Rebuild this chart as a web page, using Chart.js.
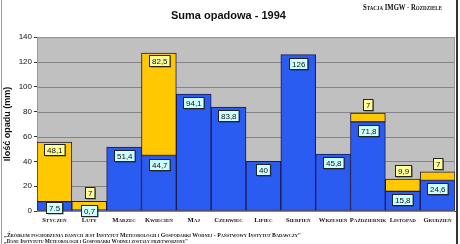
<!DOCTYPE html>
<html><head><meta charset="utf-8">
<script src="https://cdn.jsdelivr.net/npm/chart.js@4/dist/chart.umd.min.js"></script>
<style>
html,body{margin:0;padding:0;background:#fff;}
#wrap{position:relative;width:460px;height:244px;overflow:hidden;}
canvas{position:absolute;left:0;top:0;}
.sc{position:absolute;font-family:"Liberation Serif","DejaVu Serif",serif;font-variant:small-caps;color:#111;white-space:nowrap;transform-origin:0 0;line-height:1;}
#station{left:363px;top:4px;font-size:8px;font-weight:bold;}
#f1{left:4px;top:233px;font-size:5.5px;font-weight:bold;}
#f2{left:4px;top:239px;font-size:5.5px;font-weight:bold;}
#bl{position:absolute;left:1px;top:0;width:1px;height:244px;background:#9a9a9a;}
#br{position:absolute;left:456px;top:0;width:2px;height:244px;background:#333;}
</style></head>
<body><div id="wrap">
<canvas id="c" width="460" height="244"></canvas>
<div id="station" class="sc" data-w="79">Stacja IMGW - Rozdziele</div>
<div id="f1" class="sc" data-w="297">„Źródłem pochodzenia danych jest Instytut Meteorologii i Gospodarki Wodnej - Państwowy Instytut Badawczy"</div>
<div id="f2" class="sc" data-w="184">„Dane Instytutu Meteorologii i Gospodarki Wodnej zostały przetworzone"</div>
<div id="bl"></div><div id="br"></div>
</div>
<script>
const months = ["Styczeń","Luty","Marzec","Kwiecień","Maj","Czerwiec","Lipiec","Sierpień","Wrzesień","Październik","Listopad","Grudzień"];
const rain = [7.5,0.7,51.4,44.7,94.1,83.8,40,126,45.8,71.8,15.8,24.6];
const snow = [48.1,7,null,82.5,null,null,null,null,null,7,9.9,7];
const rainLabels = ["7.5","0,7","51,4","44,7","94,1","83,8","40","126","45,8","71,8","15,8","24,6"];
const snowLabels = ["48,1","7","","82,5","","","","","","7","9,9","7"];
const yTicks = [0,20,40,60,80,100,120,140];

document.querySelectorAll('.sc').forEach(d=>{
  const w = d.getBoundingClientRect().width;
  d.style.transform = 'scaleX(' + (parseFloat(d.dataset.w)/w) + ')';
});

const plotBg = {
  id:'plotBg',
  beforeDatasetsDraw(chart){
    const {ctx, chartArea:a} = chart;
    ctx.save();
    ctx.fillStyle = '#c0c0c0';
    ctx.fillRect(a.left, a.top, a.right-a.left, a.bottom-a.top);
    const y = chart.scales.y;
    ctx.strokeStyle = '#858585'; ctx.lineWidth = 1;
    yTicks.forEach(v=>{
      const py = Math.round(y.getPixelForValue(v))+0.5;
      ctx.beginPath(); ctx.moveTo(a.left, py); ctx.lineTo(a.right, py); ctx.stroke();
    });
    ctx.strokeStyle = '#999';
    ctx.strokeRect(a.left+0.5, a.top+0.5, a.right-a.left-1, a.bottom-a.top-1);
    ctx.restore();
  }
};

function drawBox(ctx, text, cx, top, bg){
  ctx.font = '8px "Liberation Sans", Arial, sans-serif';
  const w = Math.max(ctx.measureText(text).width + 5, 9);
  const h = 11;
  const x = Math.round(cx - w/2)+0.5, y = Math.round(top)+0.5;
  ctx.fillStyle = 'rgba(0,0,0,0.45)';
  ctx.fillRect(x+1, y+1, w, h);
  ctx.fillStyle = bg; ctx.fillRect(x, y, w, h);
  ctx.strokeStyle = '#222'; ctx.lineWidth = 1; ctx.strokeRect(x, y, w, h);
  ctx.fillStyle = '#111'; ctx.textAlign = 'center'; ctx.textBaseline = 'middle';
  ctx.fillText(text, x + w/2, y + h/2 + 0.5);
}

const labelsPlugin = {
  id:'boxLabels',
  afterDatasetsDraw(chart){
    const ctx = chart.ctx; ctx.save();
    const m0 = chart.getDatasetMeta(0), m1 = chart.getDatasetMeta(1);
    m0.data.forEach((el,i)=>{
      const p = el.getProps(['x','y','base'], true);
      let top = p.y + 3;
      if (p.base - p.y < 14) top = Math.min(p.y, p.base - 6);
      drawBox(ctx, rainLabels[i], p.x, top, '#ccffff');
    });
    m1.data.forEach((el,i)=>{
      if (snow[i] == null) return;
      const p = el.getProps(['x','y','base'], true);
      let top = (p.base - p.y > 16) ? p.y + 2 : p.y - 14;
      drawBox(ctx, snowLabels[i], p.x, top, '#ffff99');
    });
    ctx.restore();
  }
};

new Chart(document.getElementById('c'), {
  type:'bar',
  data:{
    labels: months,
    datasets:[
      {label:'Deszcz', data: rain, backgroundColor:'#2b5cf2', borderColor:'#1a1a50', borderWidth:1, borderSkipped:false, barPercentage:1, categoryPercentage:1},
      {label:'Śnieg', data: snow, backgroundColor:'#ffc800', borderColor:'#1a1a50', borderWidth:1, borderSkipped:false, barPercentage:1, categoryPercentage:1}
    ]
  },
  options:{
    responsive:false, animation:false, devicePixelRatio:1,
    layout:{padding:{left:2, right:5, top:0, bottom:17}},
    plugins:{
      legend:{display:false}, tooltip:{enabled:false},
      title:{display:true, text:'Suma opadowa - 1994', color:'#111',
        font:{family:'"Liberation Sans", Arial, sans-serif', size:11, weight:'bold'},
        padding:{top:9, bottom:15}}
    },
    scales:{
      x:{stacked:true, grid:{display:false, drawTicks:false, tickLength:0}, border:{display:true, color:'#333'},
        ticks:{color:'#111', padding:5, maxRotation:0, autoSkip:false,
          font:{family:'"Liberation Serif", serif', size:6.6, weight:'small-caps bold'}},
        afterFit:s=>{s.height=16;}},
      y:{stacked:true, min:0, max:140,
        grid:{display:true, drawOnChartArea:false, drawTicks:true, tickLength:3, color:'#333'},
        border:{display:true, color:'#333'},
        ticks:{stepSize:20, color:'#111', padding:2, font:{family:'"Liberation Sans", Arial, sans-serif', size:8}},
        title:{display:true, text:'Ilość opadu (mm)', color:'#111', padding:{top:0,bottom:2},
          font:{family:'"Liberation Sans", Arial, sans-serif', size:9, weight:'bold'}},
        afterFit:s=>{s.width=35;}}
    }
  },
  plugins:[plotBg, labelsPlugin]
});
</script>
</body></html>
